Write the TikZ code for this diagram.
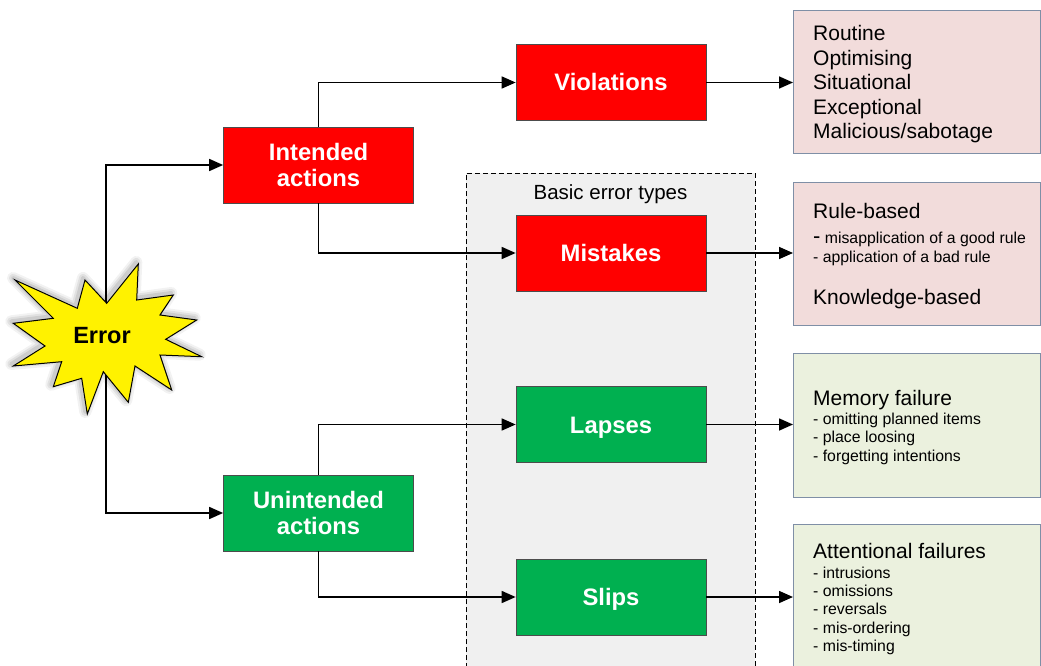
\documentclass[tikz,border=0pt]{standalone}
\usepackage{fontspec}
\setmainfont{Liberation Sans}
\usetikzlibrary{arrows.meta}
\definecolor{myred}{HTML}{FF0000}
\definecolor{mygreen}{HTML}{00B050}
\definecolor{pinkfill}{HTML}{F2DCDB}
\definecolor{greenfill}{HTML}{EBF1DE}
\definecolor{boxline}{HTML}{7F8FA6}
\definecolor{basicfill}{HTML}{F0F0F0}
\tikzset{
  conn/.style={line width=1.6pt,-{Triangle[length=14pt,width=12pt]}},
  catbox/.style={draw=black!70,line width=0.7pt,minimum width=190pt,minimum height=76pt,
    text=white,font=\fontsize{23.8}{26.7}\selectfont\bfseries,align=center,inner sep=0pt},
  oneline/.style={text height=17pt,text depth=0pt},
  redbox/.style={catbox,fill=myred},
  greenbox/.style={catbox,fill=mygreen},
  infobox/.style={draw=boxline,line width=0.8pt},
  big/.style={anchor=base west,font=\fontsize{21}{24}\selectfont,inner sep=0pt},
  small/.style={anchor=base west,font=\fontsize{15.8}{18}\selectfont,inner sep=0pt},
  starp/.style={insert path={(138.3,264) -- (106.7,303.3) -- (85,280) -- (77.3,308.3) -- (15,280) -- (53.3,318.3) -- (13.3,323.3) -- (45,346) -- (13.3,366) -- (61.7,361.7) -- (53.3,386.7) -- (81.7,378.3) -- (87.3,414) -- (103.3,371.7) -- (128.3,402.3) -- (135,366) -- (171.7,390) -- (160,355) -- (201.7,356.7) -- (165.7,339.3) -- (196.7,320) -- (160,315) -- (173.3,295) -- (136.7,300) -- cycle}},
}
\begin{document}
\begin{tikzpicture}[x=1pt,y=-1pt]
\useasboundingbox (0,0) rectangle (1041,666);
% dashed group
\fill[basicfill] (466,173) rectangle (755,668);
\draw[dash pattern=on 5pt off 3pt,line width=1pt] (466,668) -- (466,173) -- (755,173) -- (755,668);
\node[font=\fontsize{20.5}{24}\selectfont,anchor=base] (basic) at (610.5,199.5) {Basic error types};
% info boxes
\draw[infobox,fill=pinkfill] (793,10) rectangle (1040,153);
\draw[infobox,fill=pinkfill] (793,182) rectangle (1040,325);
\draw[infobox,fill=greenfill] (793,353) rectangle (1040,497);
\fill[greenfill] (793,524) rectangle (1040,668);
\draw[infobox] (793,668) -- (793,524) -- (1040,524) -- (1040,668);
% texts in info boxes
\node[big] (v1) at (813,41) {Routine};
\node[big] (v2) at (813,65.5) {Optimising};
\node[big] (v3) at (813,90) {Situational};
\node[big] (v4) at (813,114.5) {Exceptional};
\node[big] (v5) at (813,139) {Malicious/sabotage};
\node[big] (m1) at (813,218.5) {Rule-based};
\node[small] (m2) at (813,243.5) {{\fontsize{22}{22}\selectfont -} misapplication of a good rule};
\node[small] (m3) at (813,262) {- application of a bad rule};
\node[big] (m4) at (813,304) {Knowledge-based};
\node[big] (l1) at (813,405) {Memory failure};
\node[small] (l2) at (813,424.5) {- omitting planned items};
\node[small] (l3) at (813,442.5) {- place loosing};
\node[small] (l4) at (813,461.5) {- forgetting intentions};
\node[big] (s1) at (813,558.5) {Attentional failures};
\node[small] (s2) at (813,578.5) {- intrusions};
\node[small] (s3) at (813,596.5) {- omissions};
\node[small] (s4) at (813,614.5) {- reversals};
\node[small] (s5) at (813,633.5) {- mis-ordering};
\node[small] (s6) at (813,651.5) {- mis-timing};
% category boxes
\node[redbox] (intended) at (318.5,165) {Intended\\actions};
\node[greenbox] (unintended) at (318.5,513) {Unintended\\actions};
\node[redbox,oneline] (violations) at (611,82.5) {Violations};
\node[redbox,oneline] (mistakes) at (611,253) {Mistakes};
\node[greenbox,oneline] (lapses) at (611,424.5) {Lapses};
\node[greenbox,oneline] (slips) at (611,597) {Slips};
\coordinate (vbox) at (793,82.5);
\coordinate (mbox) at (793,253);
\coordinate (lbox) at (793,424.5);
\coordinate (sbox) at (793,597);
\coordinate (errc) at (106,335);
% connectors
\draw[conn] (errc) |- (intended.west);
\draw[conn] (errc) |- (unintended.west);
\draw[conn] (intended.north) |- (violations.west);
\draw[conn] (intended.south) |- (mistakes.west);
\draw[conn] (unintended.north) |- (lapses.west);
\draw[conn] (unintended.south) |- (slips.west);
\draw[conn] (violations.east) -- (vbox);
\draw[conn] (mistakes.east) -- (mbox);
\draw[conn] (lapses.east) -- (lbox);
\draw[conn] (slips.east) -- (sbox);
% star with soft shadow
\begin{scope}[shift={(-2,-2)}]
\draw[black,opacity=0.05,line width=12pt,line join=round,starp];
\draw[black,opacity=0.07,line width=8pt,line join=round,starp];
\draw[black,opacity=0.09,line width=4pt,line join=round,starp];
\end{scope}
\draw[fill=yellow,line width=1pt,line join=miter,starp];
\node[font=\fontsize{23.5}{26}\selectfont\bfseries,text height=16.8pt,text depth=0pt,inner sep=0pt] (error) at (102,335.5) {Error};
\end{tikzpicture}
\end{document}
